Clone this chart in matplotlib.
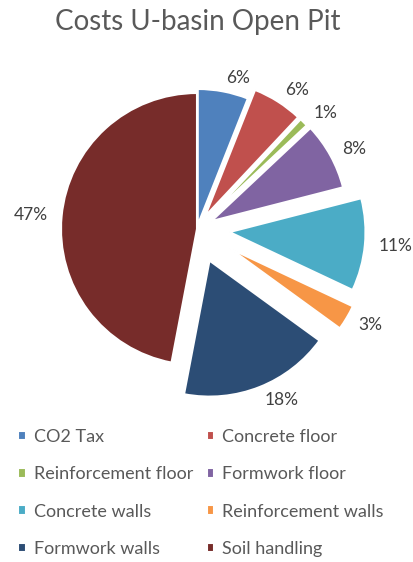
import matplotlib
matplotlib.use("Agg")
import matplotlib.pyplot as plt

plt.rcParams["font.family"] = ["Lato", "DejaVu Sans"]

names = ["CO2 Tax", "Concrete floor", "Reinforcement floor", "Formwork floor",
         "Concrete walls", "Reinforcement walls", "Formwork walls", "Soil handling"]
shares = [6, 6, 1, 8, 11, 3, 18, 47]
explode = [0.03, 0.11, 0.11, 0.12, 0.24, 0.28, 0.25, 0.0]
colors = ["#4F81BD", "#C0504D", "#9BBB59", "#8064A2",
          "#4BACC6", "#F79646", "#2C4D75", "#772C2A"]

W, H = 413, 562
cx, cy, rad = 197, H - 229, 136

fig = plt.figure(figsize=(W / 100, H / 100), dpi=100)
ax = fig.add_axes([0, 0, 1, 1])

# pie() takes explode in data units, so scale the fractions by the radius
wedges, texts = ax.pie(
    shares, explode=[e * rad for e in explode], colors=colors,
    labels=[f"{s}%" for s in shares],
    startangle=90, counterclock=False, center=(cx, cy), radius=rad,
    labeldistance=1.10, frame=True,
    wedgeprops=dict(edgecolor="white", linewidth=1.5),
    textprops=dict(color="#404040", fontsize=12.5))
ax.set_xlim(0, W)
ax.set_ylim(0, H)
ax.axis("off")

# labels left of the pie centre hang off their right edge
for t in texts:
    x, y = t.get_position()
    t.set_ha("left" if x > cx else "right")

fig.text(198 / W, 1 - 22 / H, "Costs U-basin Open Pit", ha="center", va="center",
         fontsize=20, color="#595959")

# legend reads across rows
order = [0, 2, 4, 6, 1, 3, 5, 7]
fig.legend([wedges[i] for i in order], [names[i] for i in order],
           loc="upper left", bbox_to_anchor=(18 / W, 1 - 429 / H),
           ncol=2, frameon=False, fontsize=13, handlelength=0.42, handleheight=0.42,
           handletextpad=0.45, columnspacing=0.75, labelspacing=1.18,
           borderpad=0, borderaxespad=0, labelcolor="#595959")

fig.savefig("out.png", dpi=100)
